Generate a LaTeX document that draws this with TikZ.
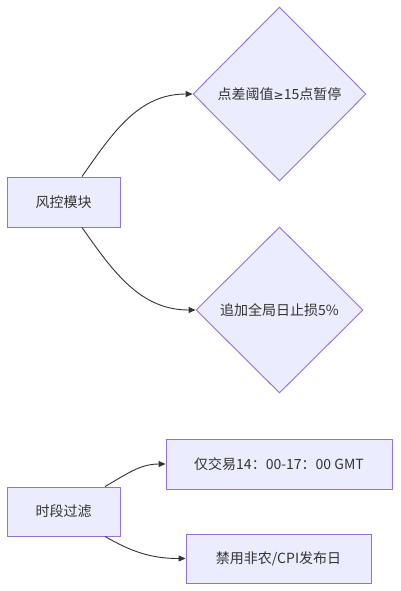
\documentclass[tikz,border=0pt]{standalone}
\usepackage{fontspec}
\usepackage{xcolor}
\usepackage{tikz}
\usetikzlibrary{shapes.geometric,arrows.meta,positioning}
\newfontfamily\cjk{Noto Sans CJK SC}
\newfontfamily\symf{DejaVu Sans}

\definecolor{nodefill}{HTML}{ECECFF}
\definecolor{nodeline}{HTML}{9370DB}
\definecolor{inkgray}{HTML}{333333}

\tikzset{
  box/.style={rectangle, draw=nodeline, fill=nodefill, line width=0.9pt,
    text=inkgray, font=\cjk\fontsize{14}{17}\selectfont, inner sep=0pt},
  decision/.style={diamond, draw=nodeline, fill=nodefill, line width=0.9pt,
    text=inkgray, font=\cjk\fontsize{14}{17}\selectfont, inner sep=0pt},
  link/.style={draw=inkgray, line width=0.9pt, -{Triangle[length=7pt,width=6pt]}}
}

\begin{document}
\begin{tikzpicture}[x=1pt,y=-1pt]
\useasboundingbox (0,0) rectangle (400,591);

% risk control block
\node[box, minimum width=113pt, minimum height=50pt] (risk) at (63.5,202) {风控模块};
\node[decision, minimum width=173pt, minimum height=174pt] (spread) at (279.5,94) {点差阈值{\symf\fontsize{12}{17}\selectfont ≥}15点暂停};
\node[decision, minimum width=167pt, minimum height=166pt] (stoploss) at (279.5,310) {追加全局日止损5\%};

\draw[link] ([xshift=18.5pt]risk.north) to[out=55, in=180] (spread.west);
\draw[link] ([xshift=18.5pt]risk.south) to[out=-55, in=180] (stoploss.west);

% session filter block
\node[box, minimum width=113pt, minimum height=49pt] (session) at (63.5,511.5) {时段过滤};
\node[box, minimum width=226pt, minimum height=50pt] (window) at (279,464) {仅交易14：00-17：00 GMT};
\node[box, minimum width=185pt, minimum height=49pt] (news) at (278.5,558.5) {禁用非农/CPI发布日};

\draw[link] ([xshift=41.5pt]session.north) to[out=30, in=180] (window.west);
\draw[link] ([xshift=41.5pt]session.south) to[out=-30, in=180] (news.west);
\end{tikzpicture}
\end{document}
